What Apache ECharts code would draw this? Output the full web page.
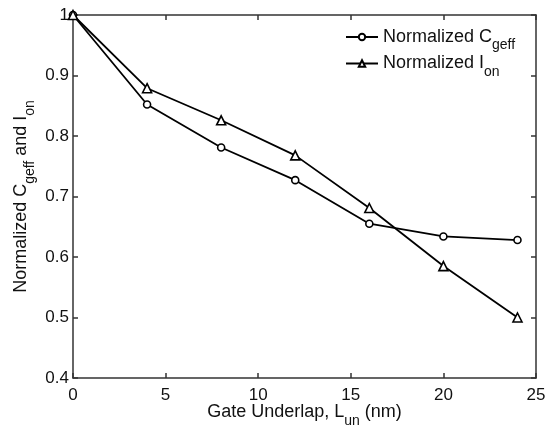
<!DOCTYPE html>
<html>
<head>
<meta charset="utf-8">
<script src="https://cdn.jsdelivr.net/npm/echarts@6/dist/echarts.min.js"></script>
<style>
html,body{margin:0;padding:0;background:#fff;}
#chart{width:554px;height:426px;}
</style>
</head>
<body>
<div id="chart"></div>
<script>
// Data
var underlap = [0, 4, 8, 12, 16, 20, 24];
var cgeff = [1.0, 0.852, 0.781, 0.727, 0.655, 0.634, 0.628];
var ion = [1.0, 0.879, 0.826, 0.768, 0.681, 0.585, 0.500];
var xTicks = [0, 5, 10, 15, 20, 25];
var yTicks = [0.4, 0.5, 0.6, 0.7, 0.8, 0.9, 1];

var FONT = '"Liberation Sans", Arial, Helvetica, sans-serif';
var rich = {
  n: { fontSize: 18, fontFamily: FONT, color: '#111' },
  s: { fontSize: 14, fontFamily: FONT, color: '#111', padding: [17, 0, 0, 0] }
};

function pairs(xs, ys) { return xs.map(function (x, i) { return [x, ys[i]]; }); }

var chart = echarts.init(document.getElementById('chart'), null, { renderer: 'canvas' });
var axisLineStyle = { color: '#333', width: 1.5 };
chart.setOption({
  animation: false,
  backgroundColor: '#fff',
  grid: { left: 73, right: 18, top: 15, bottom: 48, containLabel: false, outerBoundsMode: 'none' },
  legend: {
    orient: 'vertical',
    left: 340,
    top: 23,
    itemWidth: 32,
    itemHeight: 8,
    itemGap: 2,
    data: ['Cgeff', 'Ion'],
    formatter: function (name) {
      return name === 'Cgeff' ? '{n|Normalized C}{s|geff}' : '{n|Normalized I}{s|on}';
    },
    textStyle: { rich: rich }
  },
  xAxis: [{
    type: 'value', min: 0, max: 25, interval: 5,
    name: '{n|Gate Underlap, L}{s|un}{n| (nm)}',
    nameLocation: 'middle', nameGap: 19, nameMoveOverlap: false,
    nameTextStyle: { rich: rich },
    axisLine: { show: true, onZero: false, lineStyle: axisLineStyle },
    axisTick: { inside: true, length: 5, lineStyle: axisLineStyle },
    axisLabel: { fontSize: 17, fontFamily: FONT, color: '#111', margin: 9,
      formatter: function (v) { return xTicks.indexOf(v) >= 0 ? String(v) : ''; } },
    splitLine: { show: false }
  }, {
    type: 'value', position: 'top', min: 0, max: 25, interval: 5,
    axisLine: { show: true, onZero: false, lineStyle: axisLineStyle },
    axisTick: { inside: true, length: 5, lineStyle: axisLineStyle },
    axisLabel: { show: false }, splitLine: { show: false }
  }],
  yAxis: [{
    type: 'value', min: 0.4, max: 1, interval: 0.1,
    name: '{n|Normalized C}{s|geff}{n| and I}{s|on}',
    nameLocation: 'middle', nameGap: 36, nameRotate: 90, nameMoveOverlap: false,
    nameTextStyle: { rich: rich },
    axisLine: { show: true, onZero: false, lineStyle: axisLineStyle },
    axisTick: { inside: true, length: 5, lineStyle: axisLineStyle },
    axisLabel: { fontSize: 17, fontFamily: FONT, color: '#111', margin: 4,
      formatter: function (v) {
        var r = Math.round(v * 10) / 10;
        return yTicks.indexOf(r) >= 0 ? (r === 1 ? '1' : r.toFixed(1)) : '';
      } },
    splitLine: { show: false }
  }, {
    type: 'value', position: 'right', min: 0.4, max: 1, interval: 0.1,
    axisLine: { show: true, onZero: false, lineStyle: axisLineStyle },
    axisTick: { inside: true, length: 5, lineStyle: axisLineStyle },
    axisLabel: { show: false }, splitLine: { show: false }
  }],
  series: [{
    name: 'Cgeff', type: 'line', xAxisIndex: 0, yAxisIndex: 0,
    data: pairs(underlap, cgeff),
    symbol: 'circle', symbolSize: 7,
    lineStyle: { color: '#000', width: 1.8 },
    itemStyle: { color: '#fff', borderColor: '#000', borderWidth: 1.6 }
  }, {
    name: 'Ion', type: 'line', xAxisIndex: 0, yAxisIndex: 0,
    data: pairs(underlap, ion),
    symbol: 'triangle', symbolSize: 9,
    lineStyle: { color: '#000', width: 1.8 },
    itemStyle: { color: '#fff', borderColor: '#000', borderWidth: 1.6 }
  }]
});
</script>
</body>
</html>
